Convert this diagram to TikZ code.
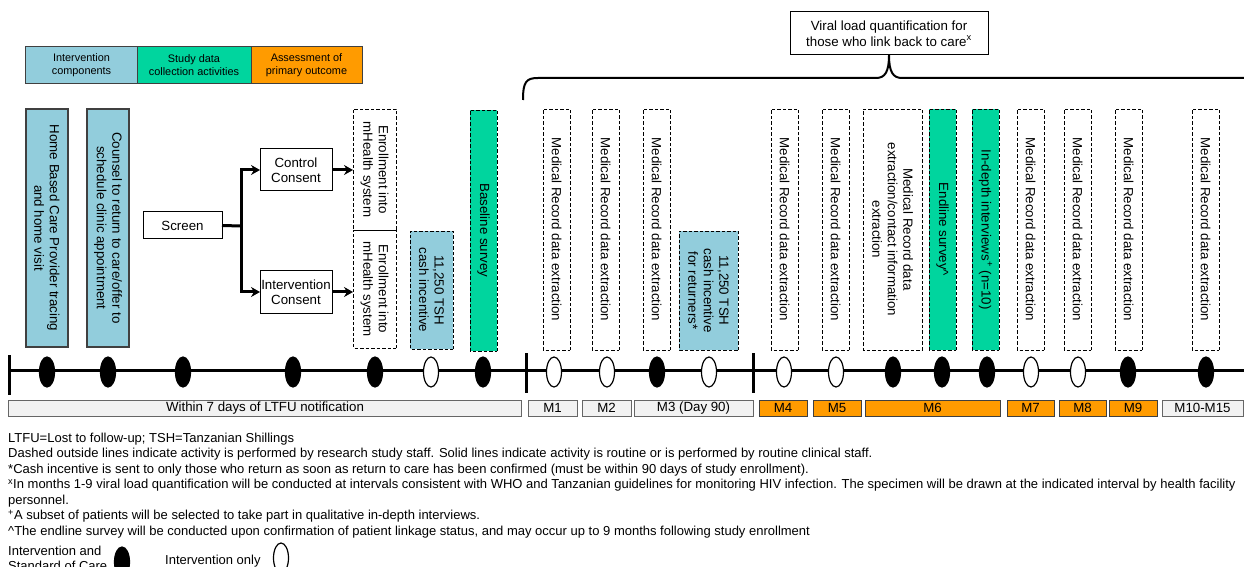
\documentclass[tikz,border=0pt]{standalone}
\usepackage{fontspec}
\setmainfont{Liberation Sans}
\usetikzlibrary{arrows.meta,shapes.geometric}
\definecolor{cblue}{HTML}{92CDDC}
\definecolor{cgreen}{HTML}{00D59E}
\definecolor{corange}{HTML}{FF9B00}
\definecolor{cgray}{HTML}{F2F2F2}
\definecolor{cedge}{HTML}{404040}
\newcommand\fsmain{\fontsize{13.3bp}{15.5bp}\selectfont}
\newcommand\fssmall{\fontsize{10.9bp}{13bp}\selectfont}
\newcommand\fsnote{\fontsize{13bp}{15.5bp}\selectfont}
% vertical (rotated) box from pixel corners
\newcommand\VB[7]{%
  \pgfmathsetmacro\myCX{(#3+#4)/2}\pgfmathsetmacro\myCY{(#5+#6)/2}%
  \pgfmathsetmacro\myWW{#4-#3}\pgfmathsetmacro\myHH{#6-#5}%
  \node[#2, minimum width=\myHH bp, minimum height=\myWW bp] (#1) at (\myCX,\myCY) {#7};}
% horizontal box from pixel corners
\newcommand\HB[7]{%
  \pgfmathsetmacro\myCX{(#3+#4)/2}\pgfmathsetmacro\myCY{(#5+#6)/2}%
  \pgfmathsetmacro\myWW{#4-#3}\pgfmathsetmacro\myHH{#6-#5}%
  \node[#2, minimum width=\myWW bp, minimum height=\myHH bp] (#1) at (\myCX,\myCY) {#7};}
\begin{document}
\begin{tikzpicture}[x=1bp,y=-1bp,
  box/.style={draw, inner sep=0pt, outer sep=0pt, align=center, font=\fsmain},
  legbox/.style={box, draw=cedge, line width=1bp, font=\fssmall},
  vsolid/.style={box, rotate=-90, draw=cedge, line width=1.2bp, fill=cblue},
  vdash/.style={box, rotate=-90, dashed, dash pattern=on 3.5bp off 2bp, line width=0.9bp},
  hsolid/.style={box, line width=1bp},
  monthbox/.style={box, draw=cedge!80, line width=1bp, fill=cgray},
  monthor/.style={monthbox, fill=corange, draw=cedge},
  arr/.style={line width=3bp, -{Stealth[length=9bp,width=10bp,inset=3bp]}},
  tline/.style={line width=3bp},
  fell/.style={ellipse, draw, fill=black, line width=1.2bp, minimum width=15bp, minimum height=30bp, inner sep=0pt},
  oell/.style={fell, fill=white},
  note/.style={anchor=base west, inner sep=0pt, font=\fsnote},
  brace/.style={line width=2bp}
]
\clip (0,0) rectangle (1244,567);
\fill[white] (0,0) rectangle (1244,567);

% legend at top
\HB{lg1}{legbox, fill=cblue}{26}{137}{47}{84}{Intervention\\components}
\HB{lg2}{legbox, fill=cgreen}{137}{251}{47}{84}{Study data\\collection activities}
\HB{lg3}{legbox, fill=corange}{251}{362}{47}{84}{Assessment of\\primary outcome}

% viral load box and brace
\HB{viral}{hsolid}{790}{988}{12}{55}{Viral load quantification for\\those who link back to care\textsuperscript{x}}
\coordinate (brL) at (523,100);
\coordinate (brR) at (1250,78);
\draw[brace] (brL) .. controls (523,82) and (526,78) .. (538,78) -- (876,78)
  .. controls (885,78) and (889,72) .. (viral.south)
  .. controls (889,72) and (893,78) .. (902,78) -- (brR);

% timeline
\coordinate (t0) at (9,370);
\coordinate (t1) at (1244,370);
\draw[tline] (t0) -- (t1);
\coordinate (k0a) at (9,355); \coordinate (k0b) at (9,395);
\coordinate (k1a) at (526,353); \coordinate (k1b) at (526,393);
\coordinate (k2a) at (753,353); \coordinate (k2b) at (753,393);
\draw[tline] (k0a) -- (k0b);
\draw[tline] (k1a) -- (k1b);
\draw[tline] (k2a) -- (k2b);

% solid intervention boxes
\VB{hb}{vsolid}{26}{68}{109}{347}{Home Based Care Provider tracing\\and home visit}
\VB{co}{vsolid}{87}{129}{109}{347}{Counsel to return to care/offer to\\schedule clinic appointment}

% screen and consent
\HB{scr}{hsolid}{143}{222}{212}{239}{Screen}
\HB{ctrl}{hsolid}{260}{332}{149}{191}{Control\\Consent}
\HB{intv}{hsolid}{260}{332}{271}{313}{Intervention\\Consent}
\coordinate (jn) at (241,226);
\draw[line width=3bp] (scr.east) -- (jn);
\draw[arr] (jn) |- (ctrl.west);
\draw[arr] (jn) |- (intv.west);

% dashed activity boxes
\VB{en1}{vdash}{353}{396}{109}{230}{Enrollment into\\mHealth system}
\VB{en2}{vdash}{353}{396}{230}{348}{Enrollment into\\mHealth system}
\draw[arr] (ctrl.east) -- (ctrl.east -| en1.south);
\draw[arr] (intv.east) -- (intv.east -| en2.south);
\VB{cash1}{vdash, fill=cblue}{410}{453}{231}{349}{11,250 TSH\\cash incentive}
\VB{base}{vdash, fill=cgreen}{470}{497}{110}{351}{Baseline survey}
\VB{m1}{vdash}{543}{570}{109}{350}{Medical Record data extraction}
\VB{m2}{vdash}{592}{619}{109}{350}{Medical Record data extraction}
\VB{m3}{vdash}{643}{670}{109}{350}{Medical Record data extraction}
\VB{cash2}{vdash, fill=cblue}{679}{738}{231}{350}{11,250 TSH\\cash incentive\\for returners*}
\VB{m4}{vdash}{771}{798}{109}{350}{Medical Record data extraction}
\VB{m5}{vdash}{822}{849}{109}{350}{Medical Record data extraction}
\VB{mc}{vdash}{863}{922}{109}{350}{Medical Record data\\extraction/contact information\\extraction}
\VB{endl}{vdash, fill=cgreen}{929}{956}{109}{350}{Endline survey\textasciicircum}
\VB{idi}{vdash, fill=cgreen}{972}{999}{109}{350}{In-depth interviews\textsuperscript{+} (n=10)}
\VB{m7}{vdash}{1017}{1044}{109}{350}{Medical Record data extraction}
\VB{m8}{vdash}{1064}{1091}{109}{350}{Medical Record data extraction}
\VB{m9}{vdash}{1115}{1142}{109}{350}{Medical Record data extraction}
\VB{m10}{vdash}{1192}{1219}{109}{350}{Medical Record data extraction}

% timeline markers
\node[fell] (e1) at (47,372) {};
\node[fell] (e2) at (108,372) {};
\node[fell] (e3) at (183,372) {};
\node[fell] (e4) at (293,372) {};
\node[fell] (e5) at (375,372) {};
\node[oell] (e6) at (431,372) {};
\node[fell] (e7) at (483,372) {};
\node[oell] (e8) at (554,372) {};
\node[oell] (e9) at (607,372) {};
\node[fell] (e10) at (657,372) {};
\node[oell] (e11) at (709,372) {};
\node[oell] (e12) at (784,372) {};
\node[oell] (e13) at (836,372) {};
\node[fell] (e14) at (893,372) {};
\node[fell] (e15) at (942,372) {};
\node[fell] (e16) at (987,372) {};
\node[oell] (e17) at (1031,372) {};
\node[oell] (e18) at (1078,372) {};
\node[fell] (e19) at (1128,372) {};
\node[fell] (e20) at (1206,372) {};

% period boxes
\HB{p0}{monthbox}{9}{521}{400}{416}{Within 7 days of LTFU notification}
\HB{p1}{monthbox}{528}{577}{400}{416}{M1}
\HB{p2}{monthbox}{582}{631}{400}{416}{M2}
\HB{p3}{monthbox}{634}{753}{400}{416}{M3 (Day 90)}
\HB{p4}{monthor}{759}{807}{400}{416}{M4}
\HB{p5}{monthor}{813}{861}{400}{416}{M5}
\HB{p6}{monthor}{865}{1000}{400}{416}{M6}
\HB{p7}{monthor}{1007}{1054}{400}{416}{M7}
\HB{p8}{monthor}{1059}{1106}{400}{416}{M8}
\HB{p9}{monthor}{1109}{1157}{400}{416}{M9}
\HB{p10}{monthbox}{1162}{1243}{400}{416}{M10-M15}

% footnotes
\node[note] (n1) at (8,442) {LTFU=Lost to follow-up; TSH=Tanzanian Shillings};
\node[note] (n2) at (8,457.5) {Dashed outside lines indicate activity is performed by research study staff. Solid lines indicate activity is routine or is performed by routine clinical staff.};
\node[note] (n3) at (8,473) {*Cash incentive is sent to only those who return as soon as return to care has been confirmed (must be within 90 days of study enrollment).};
\node[note] (n4) at (8,488.5) {\textsuperscript{x}In months 1-9 viral load quantification will be conducted at intervals consistent with WHO and Tanzanian guidelines for monitoring HIV infection. The specimen will be drawn at the indicated interval by health facility};
\node[note] (n5) at (8,504) {personnel.};
\node[note] (n6) at (8,519.5) {\textsuperscript{+}A subset of patients will be selected to take part in qualitative in-depth interviews.};
\node[note] (n7) at (8,535) {\textasciicircum The endline survey will be conducted upon confirmation of patient linkage status, and may occur up to 9 months following study enrollment};

% marker legend
\node[note] (lga) at (8,555) {Intervention and};
\node[note] (lgb) at (8,570) {Standard of Care};
\node[fell] (lge1) at (122,562) {};
\node[note] (lgc) at (165,564.5) {Intervention only};
\node[oell] (lge2) at (281,558) {};
\end{tikzpicture}
\end{document}
